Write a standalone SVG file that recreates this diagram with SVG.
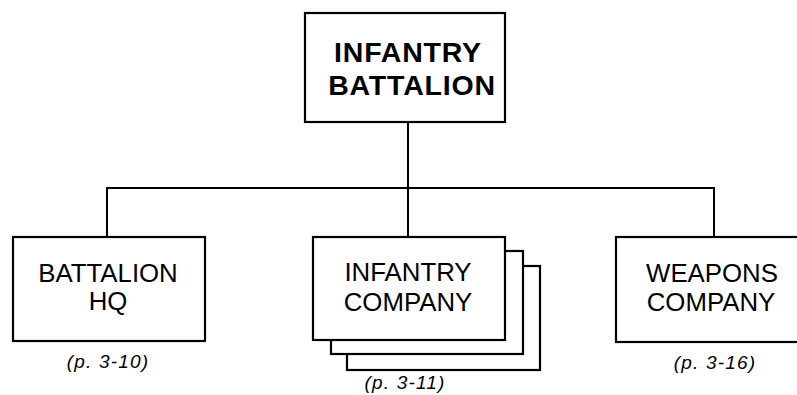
<svg xmlns="http://www.w3.org/2000/svg" width="797" height="395" viewBox="0 0 797 395">
<style>
.box{fill:#fff;stroke:#000;stroke-width:2.2}
.ln{fill:none;stroke:#000;stroke-width:2}
.t{font-family:"Liberation Sans",Arial,sans-serif;font-size:25.8px;text-anchor:middle;fill:#000}
.tb{font-family:"Liberation Sans",Arial,sans-serif;font-size:28.5px;font-weight:bold;text-anchor:middle;letter-spacing:0.8px;fill:#000}
.p{font-family:"Liberation Sans",Arial,sans-serif;font-size:19px;font-style:italic;text-anchor:middle;letter-spacing:1.2px;fill:#000}
</style>
<rect width="797" height="395" fill="#fff"/>
<g id="connectors">
<path class="ln" d="M408 122 V237"/>
<path class="ln" d="M107 237 V188 H714 V237"/>
</g>
<g id="battalion">
<rect class="box" x="305" y="13" width="200" height="109"/>
<text class="tb" x="408" y="62">INFANTRY</text>
<text class="tb" x="412" y="95">BATTALION</text>
</g>
<g id="hq">
<rect class="box" x="13" y="237" width="192" height="104"/>
<text class="t" x="108" y="282">BATTALION</text>
<text class="t" x="108" y="310">HQ</text>
<text class="p" x="108" y="368">(p. 3-10)</text>
</g>
<g id="company">
<rect class="box" x="347" y="266" width="193" height="104"/>
<rect class="box" x="331" y="251" width="192" height="103"/>
<rect class="box" x="313" y="237" width="192" height="103"/>
<text class="t" x="408" y="281">INFANTRY</text>
<text class="t" x="408" y="311">COMPANY</text>
<text class="p" x="405" y="389">(p. 3-11)</text>
</g>
<g id="weapons">
<rect class="box" x="616" y="237" width="200" height="105"/>
<text class="t" x="712" y="282">WEAPONS</text>
<text class="t" x="711" y="311">COMPANY</text>
<text class="p" x="715" y="369">(p. 3-16)</text>
</g>
</svg>
